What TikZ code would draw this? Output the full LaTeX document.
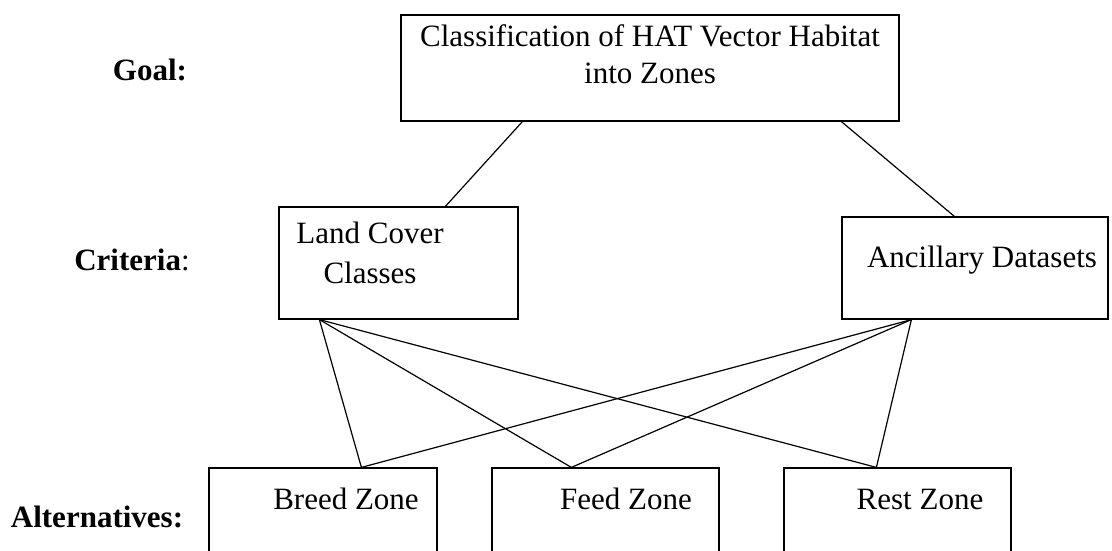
\documentclass[tikz,border=0pt]{standalone}
\usepackage{fontspec}
\setmainfont{Liberation Serif}
\usetikzlibrary{calc}
\begin{document}
\begin{tikzpicture}[x=1pt,y=-1pt,
  box/.style={draw,line width=1.2pt,rectangle,inner sep=0pt},
  txt/.style={inner sep=0pt,font=\fontsize{31}{37}\selectfont},
  lbl/.style={inner sep=0pt,anchor=base,font=\fontsize{31}{37}\selectfont},
  conn/.style={line width=1.2pt}]
\useasboundingbox (0,0) rectangle (1112,550);
% boxes
\node[box,minimum width=498pt,minimum height=106pt] (goal) at (650,68) {};
\node[box,minimum width=239pt,minimum height=112pt] (lc) at (398.5,263) {};
\node[box,minimum width=266pt,minimum height=102pt] (anc) at (975,268) {};
\node[box,minimum width=228pt,minimum height=100pt] (breed) at (323,518) {};
\node[box,minimum width=227pt,minimum height=100pt] (feed) at (605.5,518) {};
\node[box,minimum width=227pt,minimum height=100pt] (rest) at (897.5,518) {};
% texts
\node[txt,anchor=north,align=center] (goalt) at (650,24) {Classification of HAT Vector Habitat\\into Zones};
\node[txt,anchor=north,align=center,font=\fontsize{31}{40}\selectfont] (lct) at (370,222) {Land Cover\\Classes};
\node[txt,anchor=base] (anct) at (982,267) {Ancillary Datasets};
\node[txt,anchor=base] (breedt) at (346,509) {Breed Zone};
\node[txt,anchor=base] (feedt) at (626,509) {Feed Zone};
\node[txt,anchor=base] (restt) at (920,509) {Rest Zone};
% row labels
\node[lbl] (lgoal) at (150,80) {\textbf{Goal:}};
\node[lbl] (lcrit) at (132,270) {\textbf{Criteria}:};
\node[lbl] (lalt) at (97,527) {\textbf{Alternatives:}};
% connection points
\coordinate (g1) at ($(goal.south west)+(122,0)$);
\coordinate (g2) at ($(goal.south west)+(441,0)$);
\coordinate (lcn) at ($(lc.north west)+(167,0)$);
\coordinate (ancn) at ($(anc.north west)+(113,0)$);
\coordinate (lcs) at ($(lc.south west)+(41,0)$);
\coordinate (ancs) at ($(anc.south west)+(70,0)$);
\coordinate (bn) at ($(breed.north west)+(153,0)$);
\coordinate (fn) at ($(feed.north west)+(80,0)$);
\coordinate (rn) at ($(rest.north west)+(93,0)$);
% connectors
\draw[conn] (g1) -- (lcn);
\draw[conn] (g2) -- (ancn);
\draw[conn] (lcs) -- (bn);
\draw[conn] (lcs) -- (fn);
\draw[conn] (lcs) -- (rn);
\draw[conn] (ancs) -- (bn);
\draw[conn] (ancs) -- (fn);
\draw[conn] (ancs) -- (rn);
\end{tikzpicture}
\end{document}
